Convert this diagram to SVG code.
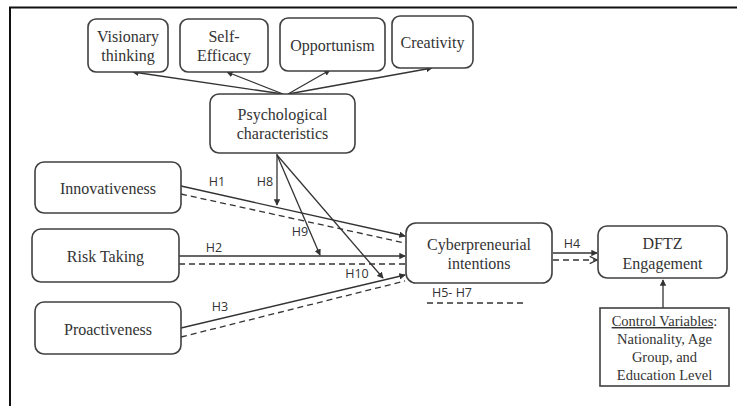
<svg xmlns="http://www.w3.org/2000/svg" width="737" height="406" viewBox="0 0 737 406">
<style>
.node rect{fill:#fff;stroke:#404040;stroke-width:1.6}
.node text{font-family:"Liberation Serif",serif;font-size:16px;fill:#333;text-anchor:middle}
.ctl text{font-size:14.5px}
.lbl{font-family:"Open Sans","Liberation Sans",sans-serif;font-size:12.5px;fill:#333;text-anchor:middle}
.c line{stroke:#333;stroke-width:1.3;fill:none}
.c .d{stroke-dasharray:6 4}
.frame{stroke:#111;stroke-width:2;fill:none}
</style>
<defs>
<marker id="a" viewBox="0 0 8 8" refX="7" refY="4" markerWidth="5" markerHeight="5" orient="auto" markerUnits="strokeWidth">
<path d="M0,0 L8,4 L0,8 z" fill="#333"/>
</marker>
<marker id="o" viewBox="0 0 10 10" refX="9" refY="5" markerWidth="7" markerHeight="7" orient="auto" markerUnits="strokeWidth">
<path d="M1,1 L9,5 L1,9" fill="none" stroke="#333" stroke-width="1.3"/>
</marker>
</defs>
<rect width="737" height="406" fill="#fff"/>
<path class="frame" d="M10,406 V7.5 H737"/>

<g class="c" id="connectors">
<line x1="283" y1="94" x2="133" y2="72" marker-end="url(#a)"/>
<line x1="283" y1="94" x2="227" y2="72" marker-end="url(#a)"/>
<line x1="288" y1="94" x2="330" y2="70" marker-end="url(#a)"/>
<line x1="288" y1="94" x2="432" y2="68" marker-end="url(#a)"/>
<line x1="181" y1="186" x2="405" y2="236" marker-end="url(#a)"/>
<line class="d" x1="181" y1="194" x2="405" y2="243"/>
<line x1="179" y1="256" x2="405" y2="256" marker-end="url(#a)"/>
<line class="d" x1="179" y1="264" x2="405" y2="264"/>
<line x1="181" y1="328" x2="405" y2="275" marker-end="url(#a)"/>
<line class="d" x1="181" y1="337" x2="405" y2="281"/>
<line x1="277" y1="154" x2="277" y2="205" marker-end="url(#a)"/>
<line x1="277" y1="155" x2="320" y2="255" marker-end="url(#a)"/>
<line x1="277" y1="155" x2="383" y2="278" marker-end="url(#a)"/>
<line x1="553" y1="253" x2="597" y2="253" marker-end="url(#a)"/>
<line class="d" x1="553" y1="260" x2="597" y2="260" marker-end="url(#o)"/>
<line class="d" x1="427" y1="303" x2="527" y2="303"/>
<line x1="663" y1="308" x2="663" y2="280" marker-end="url(#a)"/>
</g>

<g id="n-visionary" class="node"><rect x="88" y="19" width="80" height="53" rx="8"/><text x="128" y="42">Visionary</text><text x="128" y="61">thinking</text></g>
<g id="n-selfefficacy" class="node"><rect x="180" y="19" width="88" height="53" rx="8"/><text x="224" y="42">Self-</text><text x="224" y="61">Efficacy</text></g>
<g id="n-opportunism" class="node"><rect x="280" y="18" width="105" height="53" rx="8"/><text x="332.5" y="51">Opportunism</text></g>
<g id="n-creativity" class="node"><rect x="392" y="16" width="81" height="52" rx="8"/><text x="432.5" y="48">Creativity</text></g>
<g id="n-psych" class="node"><rect x="210" y="94" width="145" height="59" rx="9"/><text x="282.5" y="120">Psychological</text><text x="282.5" y="139">characteristics</text></g>
<g id="n-innov" class="node"><rect x="35" y="162" width="146" height="51" rx="9"/><text x="108" y="194">Innovativeness</text></g>
<g id="n-risk" class="node"><rect x="32" y="229" width="147" height="53" rx="9"/><text x="105.5" y="262">Risk Taking</text></g>
<g id="n-proact" class="node"><rect x="35" y="302" width="146" height="52" rx="9"/><text x="108" y="335">Proactiveness</text></g>
<g id="n-cyber" class="node"><rect x="406" y="223" width="146" height="60" rx="10"/><text x="479" y="250">Cyberpreneurial</text><text x="479" y="269">intentions</text></g>
<g id="n-dftz" class="node"><rect x="598" y="226" width="129" height="52" rx="9"/><text x="662.5" y="249">DFTZ</text><text x="662.5" y="269">Engagement</text></g>
<g id="n-control" class="node ctl"><rect x="600" y="308" width="129" height="78"/><text x="664.5" y="326"><tspan text-decoration="underline">Control Variables</tspan>:</text><text x="664.5" y="344">Nationality, Age</text><text x="664.5" y="362">Group, and</text><text x="664.5" y="380">Education Level</text></g>

<g id="labels">
<text class="lbl" x="217" y="186">H1</text>
<text class="lbl" x="265" y="186">H8</text>
<text class="lbl" x="300" y="236">H9</text>
<text class="lbl" x="214" y="252">H2</text>
<text class="lbl" x="357" y="278">H10</text>
<text class="lbl" x="220" y="311">H3</text>
<text class="lbl" x="572" y="248">H4</text>
<text class="lbl" x="452" y="297">H5- H7</text>
</g>
</svg>
